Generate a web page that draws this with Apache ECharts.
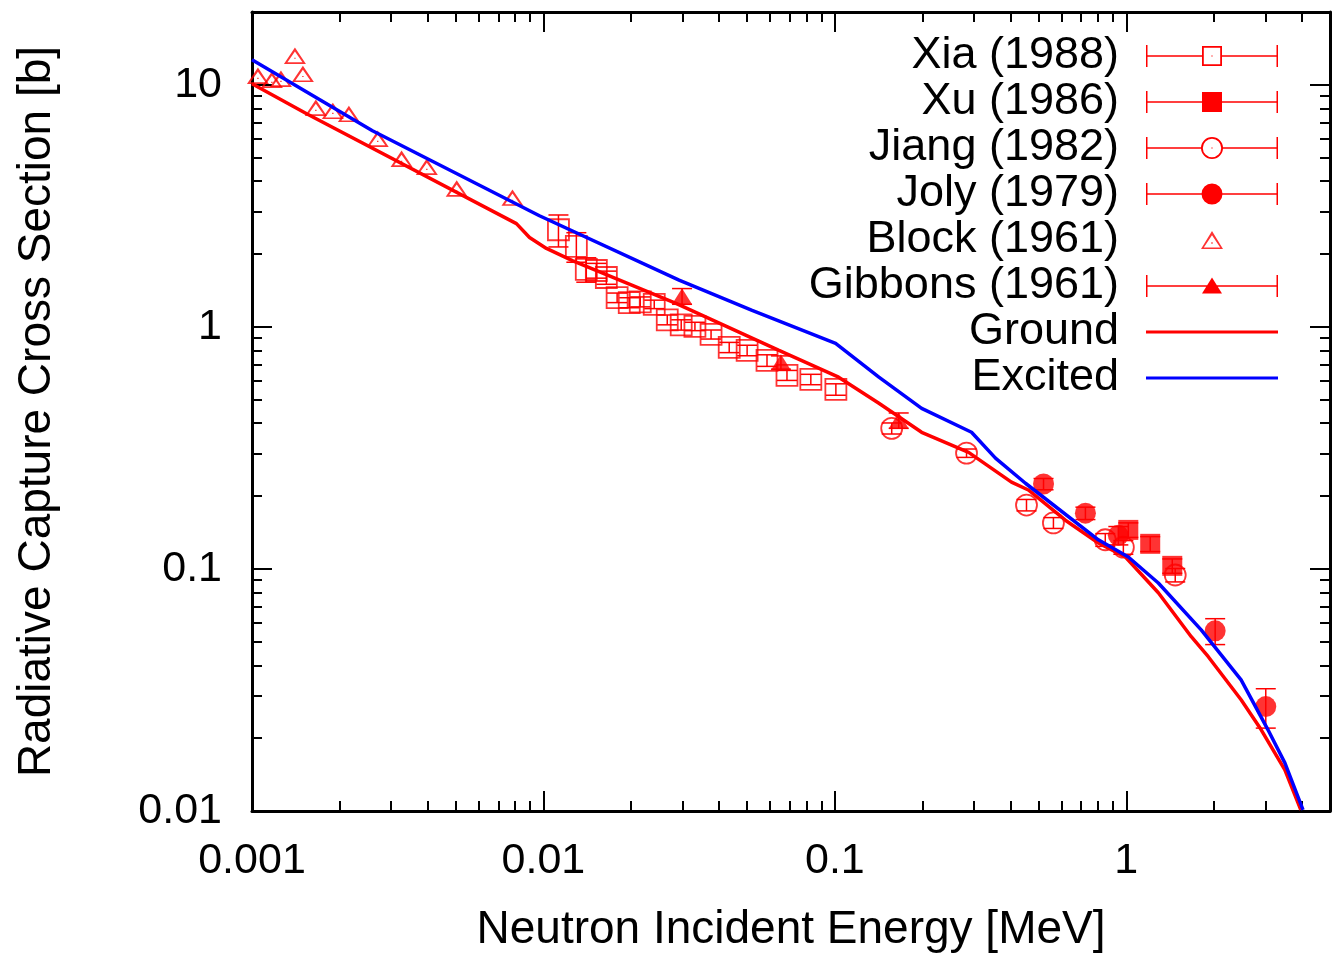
<!DOCTYPE html>
<html><head><meta charset="utf-8">
<script src="https://cdn.jsdelivr.net/npm/echarts@6/dist/echarts.min.js"></script>
<style>html,body{margin:0;padding:0;background:#fff}#c{width:1337px;height:954px}</style>
</head><body><div id="c"></div>
<script>
// ---------- data (energy in MeV, cross section in b, abs. error in b) ----------
const xiaE   = [0.01126,0.01297,0.01403,0.01519,0.01644,0.0179,0.0197,0.02149,0.0240,0.0266,0.0297,0.0331,0.0376,0.0434,0.0500,0.0585,0.0685,0.0827,0.1008];
const xiaS   = [2.52,2.15,1.73,1.71,1.60,1.32,1.26,1.27,1.24,1.07,1.02,1.005,0.931,0.823,0.80,0.727,0.631,0.607,0.552];
const xiaErr = [0.38,0.3,0.2,0.12,0.1,0.06,0.06,0.06,0.05,0.05,0.05,0.04,0.04,0.04,0.04,0.04,0.03,0.03,0.03];

const xuE   = [1.016,1.208,1.438];
const xuS   = [0.145,0.127,0.103];
const xuErr = [0.01,0.009,0.007];

const jiangE   = [0.1567,0.283,0.4545,0.5623,0.847,0.977,1.472];
const jiangS   = [0.381,0.301,0.1837,0.155,0.132,0.123,0.0944];
const jiangErr = [0.02,0.012,0.01,0.008,0.008,0.008,0.006];

const jolyE   = [0.52,0.724,0.939,2.018,3.01];
const jolyS   = [0.2244,0.170,0.1377,0.0555,0.027];
const jolyErr = [0.012,0.01,0.012,0.0068,0.005];

const blockE = [0.001048,0.00117,0.001257,0.001404,0.001495,0.001656,0.001894,0.00215,0.0027,0.00326,0.00398,0.00504,0.00783];
const blockS = [10.9,10.5,10.6,13.2,11.1,8.04,7.81,7.59,5.99,4.95,4.59,3.73,3.42];

const gibbonsE   = [0.0299,0.0653,0.1656];
const gibbonsS   = [1.34,0.714,0.411];
const gibbonsErr = [0.1,0.045,0.03];

const groundE = [0.001,0.00154,0.00808,0.00896,0.01024,0.01257,0.0285,0.0643,0.103,0.1416,0.1985,0.2877,0.4036,0.4613,0.618,0.802,0.993,1.288,1.671,1.911,2.477,2.90,3.50,3.97];
const groundS = [10.1,7.6,2.67,2.34,2.11,1.88,1.25,0.80,0.62,0.484,0.367,0.303,0.2285,0.212,0.159,0.128,0.112,0.0797,0.0525,0.0434,0.0288,0.0217,0.0148,0.0101];

const excitedE = [0.001,0.00259,0.00969,0.0292,0.052,0.1006,0.1416,0.1985,0.2944,0.3557,0.4508,0.802,1.016,1.288,1.807,2.477,3.06,3.50,4.04];
const excitedS = [12.7,6.46,2.88,1.56,1.17,0.855,0.62,0.461,0.367,0.287,0.226,0.132,0.112,0.0875,0.056,0.0348,0.0217,0.0158,0.0101];

const xMinorTicks = [0.002,0.003,0.004,0.005,0.006,0.007,0.008,0.009,0.02,0.03,0.04,0.05,0.06,0.07,0.08,0.09,0.2,0.3,0.4,0.5,0.6,0.7,0.8,0.9,2,3,4];
const yMinorTicks = [0.02,0.03,0.04,0.05,0.06,0.07,0.08,0.09,0.2,0.3,0.4,0.5,0.6,0.7,0.8,0.9,2,3,4,5,6,7,8,9];
const xTickLabels = ['0.001','0.01','0.1','1'];
const yTickLabels = ['0.01','0.1','1','10'];

const names = ['Xia (1988)','Xu (1986)','Jiang (1982)','Joly (1979)','Block (1961)','Gibbons (1961)','Ground','Excited'];
// -------------------------------------------------------------------------------

const RED = '#ff0000', BLUE = '#0000ff';
const FONT = '"Liberation Sans", Arial, Helvetica, sans-serif';

function zip2(a,b){ return a.map((v,i)=>[v,b[i]]); }
function zip3(a,b,c){ return a.map((v,i)=>[v,b[i],c[i]]); }

function errItem(params, api){
  const x = api.value(0), y = api.value(1), e = api.value(2);
  const t = api.coord([x, y + e]), b = api.coord([x, Math.max(y - e, 1e-6)]);
  const hw = 10;
  const st = {stroke: RED, lineWidth: 1.5, fill: null};
  return {type:'group', children:[
    {type:'line', shape:{x1:t[0],y1:t[1],x2:b[0],y2:b[1]}, style:st},
    {type:'line', shape:{x1:t[0]-hw,y1:t[1],x2:t[0]+hw,y2:t[1]}, style:st},
    {type:'line', shape:{x1:b[0]-hw,y1:b[1],x2:b[0]+hw,y2:b[1]}, style:st}
  ]};
}

// legend icon paths (box 132 x 22)
function R(x,y,w,h,ccw){
  return ccw ? `M${x} ${y} L${x} ${y+h} L${x+w} ${y+h} L${x+w} ${y} Z `
             : `M${x} ${y} L${x+w} ${y} L${x+w} ${y+h} L${x} ${y+h} Z `;
}
const BAR = R(0,0,1.5,22) + R(130.5,0,1.5,22) + R(0,10.25,56,1.5) + R(76,10.25,56,1.5);
const iconXia = 'path://' + BAR + R(56,1,20,20) + R(57.8,2.8,16.4,16.4,true) + R(65.4,10.4,1.2,1.2);
const iconXu  = 'path://' + BAR + R(56,1,20,20);
const iconJiang = 'path://' + BAR + 'M55 11 A11 11 0 1 1 77 11 A11 11 0 1 1 55 11 Z M56.8 11 A9.2 9.2 0 1 0 75.2 11 A9.2 9.2 0 1 0 56.8 11 Z ' + R(65.4,10.4,1.2,1.2);
const iconJoly = 'path://' + BAR + 'M55.5 11 A10.5 10.5 0 1 1 76.5 11 A10.5 10.5 0 1 1 55.5 11 Z';
const iconBlock = 'path://M0 0 L0 0 Z M132 22 L132 22 Z M66 2 L77 20 L55 20 Z M66 6.2 L57.8 18.5 L74.2 18.5 Z ' + R(65.3,13.3,1.4,1.4);
const iconGibbons = 'path://' + R(0,0,1.5,22) + R(130.5,0,1.5,22) + R(0,10.25,132,1.5) + 'M66 2.5 L76 18.5 L56 18.5 Z';
const iconLine = 'path://M0 0 L0 0 Z M132 22 L132 22 Z ' + R(0,9.5,132,3);

const TRI_OPEN = 'path://M11 0 L22 19 L0 19 Z M11 4.8 L3.5 17.1 L18.5 17.1 Z M10.3 11.8 L11.7 11.8 L11.7 13.2 L10.3 13.2 Z';

const lblX = v => { const s = String(parseFloat(Number(v).toPrecision(3))); return xTickLabels.indexOf(s) >= 0 ? s : ''; };
const lblY = v => { const s = String(parseFloat(Number(v).toPrecision(3))); return yTickLabels.indexOf(s) >= 0 ? s : ''; };

const axisLineSt = {show:true, onZero:false, lineStyle:{color:'#000', width:3}};
const majTick = {show:true, inside:true, length:20, lineStyle:{color:'#000', width:2}};
function minTick(vals){ return {show:true, inside:true, length:10, customValues: vals, lineStyle:{color:'#000', width:2}}; }
const xBase = {type:'log', logBase:10, min:0.001, max:5, gridIndex:0, splitLine:{show:false}, minorTick:{show:false}, minorSplitLine:{show:false}};
const yBase = {type:'log', logBase:10, min:0.01, max:20, gridIndex:0, splitLine:{show:false}, minorTick:{show:false}, minorSplitLine:{show:false}};

const legendData = [
  {name:names[0], icon:iconXia, itemStyle:{color:RED, borderWidth:0}},
  {name:names[1], icon:iconXu, itemStyle:{color:RED, borderWidth:0}},
  {name:names[2], icon:iconJiang, itemStyle:{color:RED, borderWidth:0}},
  {name:names[3], icon:iconJoly, itemStyle:{color:RED, borderWidth:0}},
  {name:names[4], icon:iconBlock, itemStyle:{color:RED, borderWidth:0}},
  {name:names[5], icon:iconGibbons, itemStyle:{color:RED, borderWidth:0}},
  {name:names[6], icon:iconLine, itemStyle:{color:RED, borderWidth:0}},
  {name:names[7], icon:iconLine, itemStyle:{color:BLUE, borderWidth:0}}
];

function errSeries(name, E, S, Er){
  return {name, type:'custom', xAxisIndex:0, yAxisIndex:0, renderItem: errItem,
    itemStyle:{color:RED, borderWidth:0}, encode:{x:0, y:1}, data: zip3(E,S,Er), z:2, silent:true};
}
function ptSeries(name, E, S, symbol, size, filled){
  return {name, type:'scatter', xAxisIndex:0, yAxisIndex:0, symbol, symbolSize:size, symbolKeepAspect:true,
    itemStyle: filled ? {color:RED, borderWidth:0} : {color:'rgba(0,0,0,0)', borderColor:RED, borderWidth:1.8},
    data: zip2(E,S), z:3, emphasis:{disabled:true}};
}

const option = {
  backgroundColor:'#fff',
  animation:false,
  textStyle:{fontFamily:FONT},
  grid:{left:252, right:7, top:12, bottom:143, containLabel:false, outerBoundsMode:'none'},
  xAxis:[
    Object.assign({}, xBase, {position:'bottom', axisLine:axisLineSt, axisTick:majTick,
      axisLabel:{show:true, fontSize:43, color:'#000', fontFamily:FONT, margin:29, formatter:lblX, showMaxLabel:false},
      name:'Neutron Incident Energy [MeV]', nameLocation:'middle', nameGap:96,
      nameTextStyle:{fontSize:46, color:'#000', fontFamily:FONT}}),
    Object.assign({}, xBase, {position:'bottom', axisLine:{show:false}, axisTick:minTick(xMinorTicks), axisLabel:{show:false}}),
    Object.assign({}, xBase, {position:'top', axisLine:axisLineSt, axisTick:majTick, axisLabel:{show:false}}),
    Object.assign({}, xBase, {position:'top', axisLine:{show:false}, axisTick:minTick(xMinorTicks), axisLabel:{show:false}})
  ],
  yAxis:[
    Object.assign({}, yBase, {position:'left', axisLine:axisLineSt, axisTick:majTick,
      axisLabel:{show:true, fontSize:43, color:'#000', fontFamily:FONT, margin:30, formatter:lblY, showMaxLabel:false},
      name:'Radiative Capture Cross Section [b]', nameLocation:'middle', nameGap:192,
      nameTextStyle:{fontSize:46, color:'#000', fontFamily:FONT}}),
    Object.assign({}, yBase, {position:'left', axisLine:{show:false}, axisTick:minTick(yMinorTicks), axisLabel:{show:false}}),
    Object.assign({}, yBase, {position:'right', axisLine:axisLineSt, axisTick:majTick, axisLabel:{show:false}}),
    Object.assign({}, yBase, {position:'right', axisLine:{show:false}, axisTick:minTick(yMinorTicks), axisLabel:{show:false}})
  ],
  legend:{
    data: legendData, orient:'vertical', align:'right', right:59, top:33, padding:0,
    itemWidth:132, itemHeight:22, itemGap:0, selectedMode:false,
    itemStyle:{borderWidth:0},
    textStyle:{fontSize:45, color:'#000', fontFamily:FONT, lineHeight:46, padding:[0,22,0,0]}
  },
  series:[
    errSeries(names[0], xiaE, xiaS, xiaErr),
    ptSeries(names[0], xiaE, xiaS, 'rect', 21, false),
    errSeries(names[1], xuE, xuS, xuErr),
    ptSeries(names[1], xuE, xuS, 'rect', 20, true),
    errSeries(names[2], jiangE, jiangS, jiangErr),
    ptSeries(names[2], jiangE, jiangS, 'circle', 21, false),
    errSeries(names[3], jolyE, jolyS, jolyErr),
    ptSeries(names[3], jolyE, jolyS, 'circle', 21, true),
    {name:names[4], type:'scatter', xAxisIndex:0, yAxisIndex:0, symbol:TRI_OPEN, symbolSize:[22,19], symbolKeepAspect:true,
      itemStyle:{color:RED, borderWidth:0}, data: zip2(blockE, blockS), z:3, emphasis:{disabled:true}},
    errSeries(names[5], gibbonsE, gibbonsS, gibbonsErr),
    ptSeries(names[5], gibbonsE, gibbonsS, 'triangle', [20,16], true),
    {name:names[6], type:'line', xAxisIndex:0, yAxisIndex:0, data: zip2(groundE, groundS), symbol:'none', showSymbol:false,
      lineStyle:{color:RED, width:3.5}, itemStyle:{color:RED}, z:4, clip:true, emphasis:{disabled:true}},
    {name:names[7], type:'line', xAxisIndex:0, yAxisIndex:0, data: zip2(excitedE, excitedS), symbol:'none', showSymbol:false,
      lineStyle:{color:BLUE, width:3.5}, itemStyle:{color:BLUE}, z:4, clip:true, emphasis:{disabled:true}}
  ]
};
const chart = echarts.init(document.getElementById('c'), null, {renderer:'canvas'});
chart.setOption(option);
</script></body></html>
